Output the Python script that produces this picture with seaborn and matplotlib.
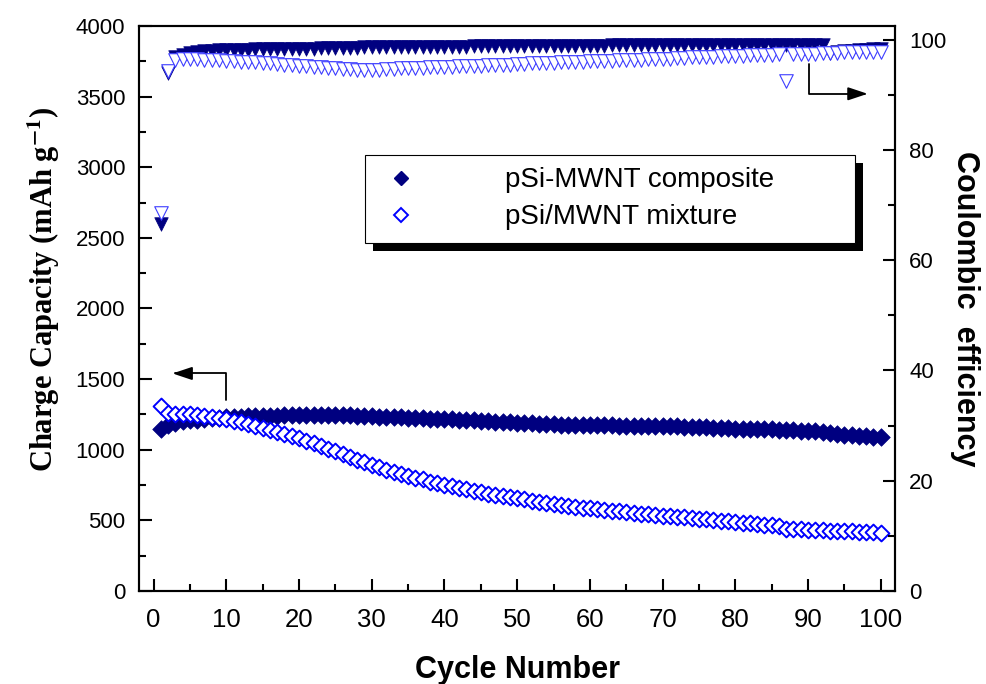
import matplotlib
matplotlib.use('Agg')
import matplotlib.pyplot as plt
from matplotlib.lines import Line2D
from matplotlib.patches import Rectangle
from matplotlib.transforms import IdentityTransform
from matplotlib.ticker import MultipleLocator
import seaborn as sns

# cycle index and the four series
cycles = list(range(1, 101))

composite_cap = [
    1150, 1175, 1190, 1200, 1208, 1214, 1219, 1223, 1227, 1230,
    1232, 1234, 1236, 1238, 1240, 1241, 1242, 1243, 1244, 1245,
    1246, 1246, 1246, 1245, 1245, 1244, 1243, 1241, 1239, 1237,
    1235, 1233, 1231, 1229, 1227, 1225, 1223, 1221, 1219, 1217,
    1215, 1213, 1211, 1208, 1205, 1202, 1199, 1196, 1193, 1190,
    1188, 1186, 1184, 1182, 1180, 1178, 1177, 1176, 1175, 1174,
    1173, 1172, 1172, 1171, 1171, 1170, 1170, 1169, 1168, 1167,
    1166, 1165, 1164, 1162, 1160, 1158, 1156, 1154, 1152, 1150,
    1148, 1147, 1146, 1145, 1144, 1142, 1140, 1138, 1136, 1134,
    1131, 1127, 1120, 1112, 1106, 1101, 1097, 1094, 1091, 1088]

mixture_cap = [
    1310, 1260, 1250, 1250, 1250, 1245, 1240, 1235, 1225, 1215,
    1205, 1195, 1180, 1170, 1155, 1140, 1125, 1110, 1095, 1080,
    1060, 1045, 1025, 1005, 990, 970, 950, 930, 910, 890,
    875, 860, 845, 830, 815, 800, 790, 775, 765, 750,
    740, 730, 720, 710, 700, 690, 680, 670, 663, 655,
    648, 640, 632, 625, 618, 610, 603, 597, 590, 584,
    578, 573, 568, 563, 558, 553, 548, 543, 538, 534,
    530, 525, 521, 516, 512, 507, 502, 497, 492, 487,
    482, 478, 474, 470, 466, 462, 440, 438, 436, 434,
    432, 430, 428, 426, 424, 422, 420, 418, 416, 414]

composite_eff = [
    66.5, 94.0, 96.8, 97.3, 97.6, 97.8, 97.9, 98.0, 98.1, 98.1,
    98.2, 98.2, 98.2, 98.3, 98.3, 98.3, 98.3, 98.4, 98.4, 98.4,
    98.4, 98.4, 98.5, 98.5, 98.5, 98.5, 98.5, 98.5, 98.6, 98.6,
    98.6, 98.6, 98.6, 98.6, 98.6, 98.7, 98.7, 98.7, 98.7, 98.7,
    98.7, 98.7, 98.7, 98.8, 98.8, 98.8, 98.8, 98.8, 98.8, 98.8,
    98.8, 98.8, 98.9, 98.9, 98.9, 98.9, 98.9, 98.9, 98.9, 98.9,
    98.9, 98.9, 99.0, 99.0, 99.0, 99.0, 99.0, 99.0, 99.0, 99.0,
    99.0, 99.0, 99.0, 99.0, 99.0, 99.0, 99.0, 99.0, 99.0, 99.0,
    99.0, 99.0, 99.0, 99.0, 99.0, 99.0, 99.0, 99.0, 99.0, 99.0,
    99.0, 99.0, 97.6, 97.8, 97.9, 98.0, 98.1, 98.2, 98.3, 98.4]

mixture_eff = [
    68.5, 94.4, 96.3, 96.6, 96.6, 96.5, 96.4, 96.4, 96.3, 96.2,
    96.1, 96.0, 95.9, 95.9, 95.8, 95.7, 95.6, 95.5, 95.4, 95.3,
    95.2, 95.1, 95.0, 94.9, 94.8, 94.7, 94.7, 94.6, 94.6, 94.6,
    94.6, 94.7, 94.7, 94.8, 94.8, 94.9, 94.9, 95.0, 95.0, 95.1,
    95.1, 95.2, 95.2, 95.3, 95.3, 95.4, 95.4, 95.5, 95.5, 95.6,
    95.6, 95.7, 95.7, 95.8, 95.8, 95.9, 95.9, 96.0, 96.0, 96.1,
    96.1, 96.2, 96.2, 96.3, 96.3, 96.4, 96.4, 96.5, 96.5, 96.6,
    96.6, 96.7, 96.7, 96.8, 96.8, 96.9, 96.9, 97.0, 97.0, 97.1,
    97.1, 97.2, 97.2, 97.3, 97.3, 97.4, 92.5, 97.4, 97.5, 97.5,
    97.5, 97.6, 97.6, 97.6, 97.7, 97.7, 97.7, 97.8, 97.8, 97.8]

labels = ["pSi-MWNT composite", "pSi/MWNT mixture"]

sns.set_style("ticks")
plt.rcParams['font.family'] = ['Liberation Sans', 'DejaVu Sans']
plt.rcParams['mathtext.fontset'] = 'stix'
plt.rcParams['axes.linewidth'] = 1.5
for k in ['text.color', 'axes.labelcolor', 'xtick.color', 'ytick.color', 'axes.edgecolor']:
    plt.rcParams[k] = 'black'

NAVY = "#000080"
BLUE = "#0000ff"
LBLUE = "#3c3cff"

fig = plt.figure(figsize=(9.86, 6.84), dpi=100)
ax = fig.add_axes([0.141, 0.136, 0.767, 0.826])
ax2 = ax.twinx()

# capacity (left axis)
sns.scatterplot(x=cycles, y=composite_cap, marker="D", s=80, color=NAVY,
                edgecolor=NAVY, linewidth=0.5, ax=ax, zorder=3)
sns.scatterplot(x=cycles, y=mixture_cap, marker="D", s=65, facecolor="white",
                edgecolor=BLUE, linewidth=1.4, ax=ax, zorder=4)

# coulombic efficiency (right axis)
sns.scatterplot(x=cycles, y=composite_eff, marker="v", s=95, color=NAVY,
                edgecolor=NAVY, linewidth=0.5, ax=ax2, zorder=3)
sns.scatterplot(x=cycles, y=mixture_eff, marker="v", s=95, facecolor="white",
                edgecolor=LBLUE, linewidth=0.8, ax=ax2, zorder=4)

ax.set_xlim(-2, 102)
ax.set_ylim(0, 4000)
ax2.set_ylim(0, 102.5)

ax.xaxis.set_major_locator(MultipleLocator(10))
ax.xaxis.set_minor_locator(MultipleLocator(5))
ax.yaxis.set_major_locator(MultipleLocator(500))
ax.yaxis.set_minor_locator(MultipleLocator(250))
ax2.yaxis.set_major_locator(MultipleLocator(20))
ax2.yaxis.set_minor_locator(MultipleLocator(10))

ax.tick_params(axis='both', which='both', direction='in', width=1.5,
               top=False, right=False)
ax.tick_params(which='major', length=9)
ax.tick_params(which='minor', length=5)
ax.tick_params(axis='x', labelsize=18.5, pad=12)
ax.tick_params(axis='y', labelsize=16, pad=10)
ax2.tick_params(axis='y', which='both', direction='in', width=1.5, labelsize=16, pad=10)
ax2.tick_params(which='major', length=9)
ax2.tick_params(which='minor', length=5)

ax.set_xlabel("Cycle Number", fontsize=22, fontweight='bold', labelpad=17)
ax.set_ylabel(r"Charge Capacity (mAh g$^{\mathbf{-1}}$)", fontsize=22,
              fontweight='bold', family='Liberation Serif', labelpad=10)
ax.yaxis.label.set_y(0.535)
ax2.set_ylabel("Coulombic  efficiency", fontsize=22, fontweight='bold',
               rotation=270, labelpad=24)

# pointer arrows
ax.annotate("", xy=(2.6, 1540), xytext=(10, 1350),
            arrowprops=dict(arrowstyle="-|>,head_length=0.6,head_width=0.2",
                            connectionstyle="angle,angleA=90,angleB=0,rad=0",
                            color="black", lw=1.3, shrinkA=0, shrinkB=0,
                            mutation_scale=20))
ax2.annotate("", xy=(98.2, 90.2), xytext=(90.2, 95.6),
             arrowprops=dict(arrowstyle="-|>,head_length=0.6,head_width=0.2",
                             connectionstyle="angle,angleA=-90,angleB=0,rad=0",
                             color="black", lw=1.3, shrinkA=0, shrinkB=0,
                             mutation_scale=20))

handles = [
    Line2D([], [], ls='none', marker='D', ms=7.5, color=NAVY, mec=NAVY),
    Line2D([], [], ls='none', marker='D', ms=7.0, mfc='white', mec=BLUE, mew=1.4),
]
leg = ax2.legend(handles, labels, loc='upper left', bbox_to_anchor=(0.299, 0.772, 0.648, 0),
                 mode='expand', borderaxespad=0, fontsize=20, frameon=True,
                 fancybox=False, edgecolor='black', framealpha=1,
                 handlelength=1.7, handletextpad=2.9, labelspacing=0.4,
                 borderpad=0.45)
leg.get_frame().set_linewidth(0.8)
leg.set_zorder(10)

fig.canvas.draw()
bb = leg.get_window_extent()
shadow = Rectangle((bb.x0 + 8, bb.y0 - 8), bb.width, bb.height,
                   transform=IdentityTransform(), facecolor='black',
                   edgecolor='none', zorder=9)
ax2.add_artist(shadow)

fig.savefig("out.png", dpi=100)
